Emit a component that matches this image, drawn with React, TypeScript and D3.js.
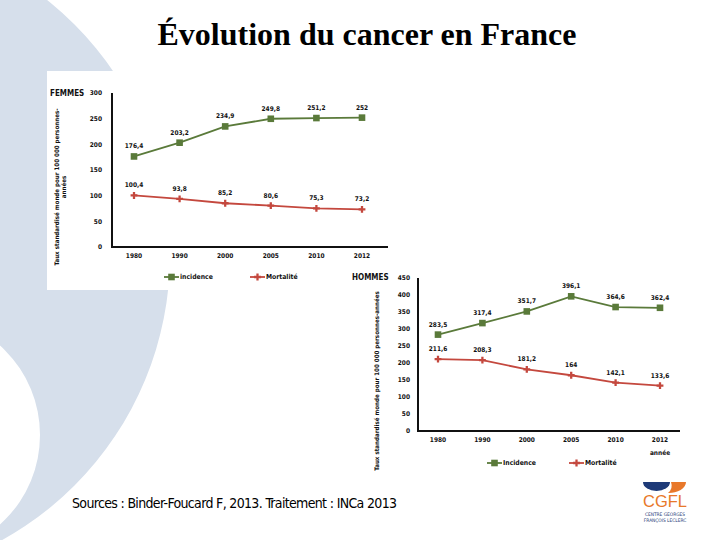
import React from "react";
import * as d3 from "d3";

const YEARS = ["1980", "1990", "2000", "2005", "2010", "2012"];
const FEMMES_INCIDENCE = [176.4, 203.2, 234.9, 249.8, 251.2, 252];
const FEMMES_MORTALITE = [100.4, 93.8, 85.2, 80.6, 75.3, 73.2];
const HOMMES_INCIDENCE = [283.5, 317.4, 351.7, 396.1, 364.6, 362.4];
const HOMMES_MORTALITE = [211.6, 208.3, 181.2, 164, 142.1, 133.6];
const FEMMES_TICKS = [0, 50, 100, 150, 200, 250, 300];
const HOMMES_TICKS = [0, 50, 100, 150, 200, 250, 300, 350, 400, 450];
const SERIES_NAMES_F = ["incidence", "Mortalité"];
const SERIES_NAMES_H = ["Incidence", "Mortalité"];

const GREEN = "#5a7a3a";
const RED = "#c4483e";
const FONT = "'Liberation Sans Narrow', 'DejaVu Sans Condensed', 'Liberation Sans', sans-serif";

const fmt = (v: number) => String(v).replace(".", ",");

type ChartProps = {
  name: string;
  seriesNames: string[];
  incidence: number[];
  mortalite: number[];
  ticks: number[];
  yMax: number;
  xRange: [number, number];
  yRange: [number, number];
  axisX: number;
  axisRight: number;
  tickRight: number;
  nameX: number;
  nameY: number;
  titleLines: string[];
  titleX: number;
  titleY: number;
  legendY: number;
  legendX: [number, number];
  anneeLabel?: boolean;
};

function Marker({ kind, x, y }: { kind: string; x: number; y: number }) {
  if (kind === "square") {
    return <rect x={x - 3.3} y={y - 3.3} width={6.6} height={6.6} fill={GREEN} />;
  }
  const p = d3.symbol(d3.symbolCross, 26)();
  return <path d={p || ""} transform={`translate(${x},${y})`} fill={RED} />;
}

function Chart(p: ChartProps) {
  const x = d3.scalePoint<string>().domain(YEARS).range(p.xRange);
  const y = d3.scaleLinear().domain([0, p.yMax]).range(p.yRange);
  const line = d3
    .line<number>()
    .x((_, i) => x(YEARS[i]) as number)
    .y((d) => y(d));
  const y0 = y(0);
  const yTop = y(p.yMax);
  const series = [
    { vals: p.incidence, color: GREEN, kind: "square" },
    { vals: p.mortalite, color: RED, kind: "cross" },
  ];
  return (
    <g>
      <text x={p.nameX} y={p.nameY} fontFamily={FONT} fontWeight="bold" fontSize={8} fill="#111">
        {p.name}
      </text>
      {p.titleLines.map((t, i) => (
        <text
          key={i}
          transform={`translate(${p.titleX + i * 7},${p.titleY}) rotate(-90)`}
          textAnchor="middle"
          fontFamily={FONT}
          fontWeight="bold"
          fontSize={6.2}
          fill="#111"
        >
          {t}
        </text>
      ))}
      {p.ticks.map((t) => (
        <text
          key={t}
          x={p.tickRight}
          y={y(t)}
          dy="0.35em"
          textAnchor="end"
          fontFamily={FONT}
          fontWeight="bold"
          fontSize={6.5}
          fill="#111"
        >
          {t}
        </text>
      ))}
      {YEARS.map((yr) => (
        <text
          key={yr}
          x={x(yr)}
          y={y0 + 11}
          textAnchor="middle"
          fontFamily={FONT}
          fontWeight="bold"
          fontSize={6.5}
          fill="#111"
        >
          {yr}
        </text>
      ))}
      {p.anneeLabel && (
        <text
          x={x(YEARS[YEARS.length - 1])}
          y={y0 + 24}
          textAnchor="middle"
          fontFamily={FONT}
          fontWeight="bold"
          fontSize={6.5}
          fill="#111"
        >
          année
        </text>
      )}
      <line x1={p.axisX} x2={p.axisX} y1={yTop} y2={y0 + 1} stroke="#111" strokeWidth={2} />
      <line x1={p.axisX - 1} x2={p.axisRight} y1={y0} y2={y0} stroke="#111" strokeWidth={2} />
      {series.map((s, si) => (
        <g key={si}>
          <path d={line(s.vals) || ""} fill="none" stroke={s.color} strokeWidth={1.8} />
          {s.vals.map((v, i) => (
            <Marker key={i} kind={s.kind} x={x(YEARS[i]) as number} y={y(v)} />
          ))}
          {s.vals.map((v, i) => (
            <text
              key={"l" + i}
              x={x(YEARS[i]) as number}
              y={y(v) - 8}
              textAnchor="middle"
              fontFamily={FONT}
              fontWeight="bold"
              fontSize={6.5}
              fill="#111"
            >
              {fmt(v)}
            </text>
          ))}
        </g>
      ))}
      {series.map((s, si) => (
        <g key={"lg" + si}>
          <line
            x1={p.legendX[si]}
            x2={p.legendX[si] + 15}
            y1={p.legendY}
            y2={p.legendY}
            stroke={s.color}
            strokeWidth={1.8}
          />
          <Marker kind={s.kind} x={p.legendX[si] + 7.5} y={p.legendY} />
          <text
            x={p.legendX[si] + 16}
            y={p.legendY}
            dy="0.35em"
            fontFamily={FONT}
            fontWeight="bold"
            fontSize={6.8}
            fill="#111"
          >
            {p.seriesNames[si]}
          </text>
        </g>
      ))}
    </g>
  );
}

export default function App() {
  // light-blue crescent decoration
  const outer = d3.path();
  outer.arc(-156, 255, 326, 0, Math.PI * 2);
  const inner = d3.path();
  inner.arc(-80, 435, 120, 0, Math.PI * 2);
  return (
    <svg
      width={720}
      height={540}
      style={{ position: "absolute", left: 0, top: 0, background: "#fff" }}
    >
      <rect x={0} y={0} width={720} height={540} fill="#fff" />
      <path d={outer.toString() + inner.toString()} fill="#d6dfeb" fillRule="evenodd" />
      <rect x={47} y={71} width={345} height={219} fill="#fff" />
      <text
        x={367}
        y={45}
        textAnchor="middle"
        fontFamily="'Liberation Serif', 'Times New Roman', serif"
        fontWeight="bold"
        fontSize={31}
        textLength={419}
        lengthAdjust="spacingAndGlyphs"
        fill="#000"
      >
        Évolution du cancer en France
      </text>
      <Chart
        name="FEMMES"
        seriesNames={SERIES_NAMES_F}
        incidence={FEMMES_INCIDENCE}
        mortalite={FEMMES_MORTALITE}
        ticks={FEMMES_TICKS}
        yMax={300}
        xRange={[134, 362]}
        yRange={[247, 93]}
        axisX={112}
        axisRight={388}
        tickRight={102}
        nameX={50}
        nameY={96}
        titleLines={["Taux standardisé monde pour 100 000 personnes-", "années"]}
        titleX={59}
        titleY={187}
        legendY={277}
        legendX={[164, 250]}
      />
      <Chart
        name="HOMMES"
        seriesNames={SERIES_NAMES_H}
        incidence={HOMMES_INCIDENCE}
        mortalite={HOMMES_MORTALITE}
        ticks={HOMMES_TICKS}
        yMax={450}
        xRange={[438, 660]}
        yRange={[431, 278]}
        axisX={418}
        axisRight={680}
        tickRight={410}
        nameX={352}
        nameY={280}
        titleLines={["Taux standardisé monde pour 100 000 personnes-années"]}
        titleX={379}
        titleY={381}
        legendY={463}
        legendX={[487, 569]}
        anneeLabel
      />
      <text
        x={72}
        y={508}
        fontFamily="'Liberation Sans Narrow', 'DejaVu Sans Condensed', sans-serif"
        fontSize={14}
        textLength={325}
        lengthAdjust="spacing"
        fill="#000"
      >
        Sources : Binder-Foucard F, 2013. Traitement : INCa 2013
      </text>
      {/* CGFL logo */}
      <g>
        <path d="M643,482 A13.5,9 0 0 0 670,482 Z" fill="#1e3a78" />
        <path d="M671,482 L686,482 A17,11 0 0 1 668,493 A10,10 0 0 0 671,482 Z" fill="#e8782a" />
        <text
          x={665}
          y={507}
          textAnchor="middle"
          fontFamily="'Liberation Sans', sans-serif"
          fontSize={17}
          textLength={44}
          lengthAdjust="spacingAndGlyphs"
          fill="#e8782a"
        >
          CGFL
        </text>
        <text x={665} y={516} textAnchor="middle" fontFamily={FONT} fontSize={4.8} fill="#1e3a78">
          CENTRE GEORGES
        </text>
        <text x={665} y={522} textAnchor="middle" fontFamily={FONT} fontSize={4.8} fill="#1e3a78">
          FRANÇOIS LECLERC
        </text>
      </g>
    </svg>
  );
}
